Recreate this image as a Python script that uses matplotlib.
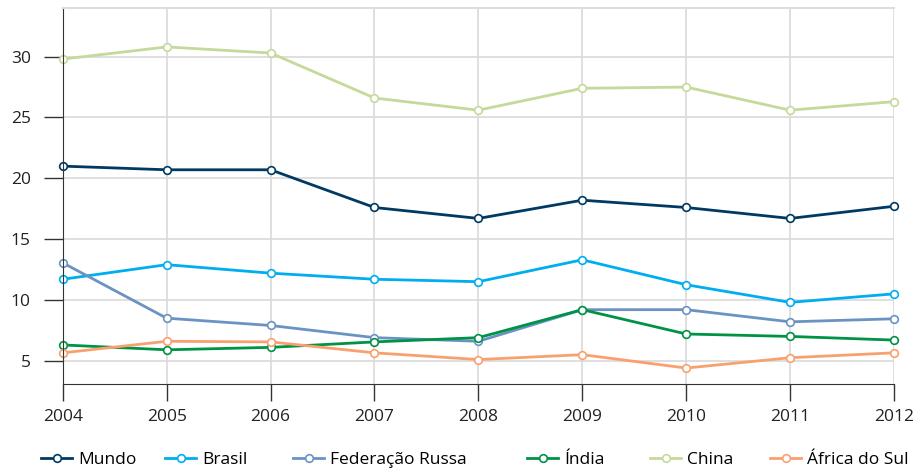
import matplotlib.pyplot as plt

plt.rcParams['font.family'] = ['Open Sans', 'DejaVu Sans']

years = [2004, 2005, 2006, 2007, 2008, 2009, 2010, 2011, 2012]
mundo = [21.0, 20.7, 20.7, 17.6, 16.7, 18.2, 17.6, 16.7, 17.7]
brasil = [11.7, 12.9, 12.2, 11.7, 11.5, 13.3, 11.25, 9.8, 10.5]
russia = [13.05, 8.5, 7.9, 6.9, 6.6, 9.2, 9.2, 8.2, 8.45]
india = [6.3, 5.9, 6.1, 6.55, 6.9, 9.2, 7.2, 7.0, 6.7]
china = [29.8, 30.8, 30.3, 26.6, 25.6, 27.4, 27.5, 25.6, 26.3]
africa = [5.65, 6.6, 6.55, 5.65, 5.1, 5.5, 4.4, 5.25, 5.65]

series = [
    ("Mundo", mundo, "#003a63"),
    ("Brasil", brasil, "#00aeef"),
    ("Federação Russa", russia, "#6a93c3"),
    ("Índia", india, "#009245"),
    ("China", china, "#c5d99b"),
    ("África do Sul", africa, "#f9a06f"),
]
# legend entry x positions (figure pixels)
legend_x = [41, 165, 293, 527, 650, 770]

fig = plt.figure(figsize=(9.23, 4.71), dpi=100)
ax = fig.add_axes([0.068, 0.185, 0.9006, 0.798])

lines = []
for name, vals, col in series:
    ln, = ax.plot(years, vals, color=col, lw=2, marker="o", markersize=5.5,
                  markerfacecolor="white", markeredgecolor=col, markeredgewidth=1.2,
                  label=name, clip_on=False)
    lines.append(ln)

ax.set_xlim(2004, 2012)
ax.set_ylim(3.1, 34)
ax.set_xticks(years)
ax.set_yticks([5, 10, 15, 20, 25, 30])
ax.grid(True, color="#d9d9d9", lw=1.2)
ax.set_axisbelow(True)

ax.spines["right"].set_visible(False)
ax.spines["top"].set_color("#dddddd")
ax.spines["top"].set_linewidth(1.5)
ax.spines["left"].set_color("#333333")
ax.spines["bottom"].set_color("#333333")
ax.tick_params(axis="y", length=14, width=1, color="#333333", labelsize=12.5, pad=9)
ax.tick_params(axis="x", length=12, width=1, color="#333333", labelsize=12.5, pad=6)
for lbl in ax.get_xticklabels() + ax.get_yticklabels():
    lbl.set_color("#222222")

for ln, px in zip(lines, legend_x):
    leg = fig.legend([ln], [ln.get_label()], loc="center left",
                     bbox_to_anchor=(px / 923, 11 / 471), frameon=False,
                     fontsize=12.5, handlelength=1.8, handletextpad=0.35,
                     borderpad=0, borderaxespad=0)

fig.savefig("out.png", dpi=100)
